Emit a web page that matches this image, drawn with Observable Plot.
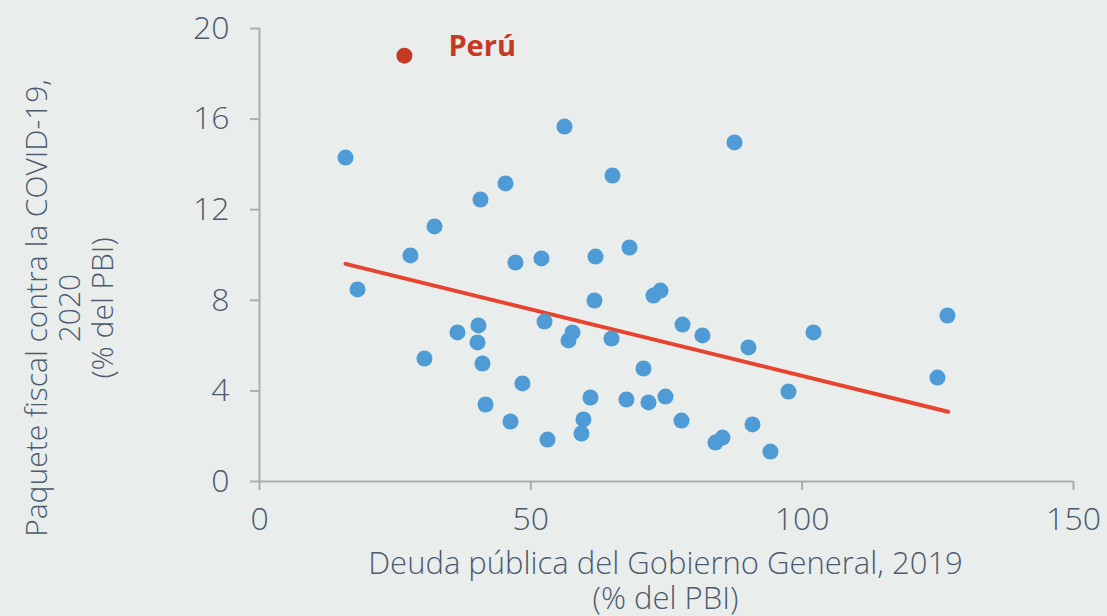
<!DOCTYPE html>
<html>
<head>
<meta charset="utf-8">
<script src="https://cdn.jsdelivr.net/npm/d3@7"></script>
<script src="https://cdn.jsdelivr.net/npm/@observablehq/plot@0.6"></script>
<style>
  html, body { margin: 0; padding: 0; background: #e9eeed; }
  #chart { width: 1107px; height: 616px; }
</style>
</head>
<body>
<div id="chart"></div>
<script>
// Deuda pública 2019 (% PBI) and paquete fiscal COVID-19 2020 (% PBI)
const debt = [15.85, 18.06, 27.82, 30.40, 32.25, 36.48, 40.35, 40.17, 40.72, 41.09, 41.65, 45.33, 46.25, 47.17, 48.46, 51.96, 52.52, 53.07, 56.20, 56.94, 57.68, 59.70, 59.33, 60.99, 61.73, 61.92, 64.86, 65.05, 67.62, 68.18, 70.76, 71.68, 72.60, 73.89, 74.81, 77.76, 77.95, 81.63, 84.02, 85.31, 87.53, 90.10, 90.84, 94.16, 97.48, 102.08, 124.93, 126.77];
const fiscal = [14.30, 8.48, 9.98, 5.43, 11.26, 6.58, 6.89, 6.14, 12.45, 5.21, 3.40, 13.16, 2.65, 9.67, 4.33, 9.85, 7.06, 1.85, 15.67, 6.23, 6.58, 2.74, 2.12, 3.71, 7.99, 9.93, 6.31, 13.51, 3.62, 10.33, 4.99, 3.49, 8.21, 8.43, 3.75, 2.69, 6.93, 6.45, 1.72, 1.94, 14.97, 5.92, 2.52, 1.32, 3.97, 6.58, 4.59, 7.33];

const peruName = ["Perú"];
const peruDebt = [26.7];
const peruFiscal = [18.8];

// Trend line endpoints
const trendX = [15.85, 126.9];
const trendY = [9.61, 3.08];

const xTicks = [0, 50, 100, 150];
const yTicks = [0, 4, 8, 12, 16, 20];

const xTitle = "Deuda pública del Gobierno General, 2019\n(% del PBI)";
const yTitle = "Paquete fiscal contra la COVID-19,\n2020\n(% del PBI)";

const points = debt.map((d, i) => ({x: d, y: fiscal[i]}));
const peru = peruName.map((n, i) => ({name: n, x: peruDebt[i], y: peruFiscal[i]}));
const trend = trendX.map((d, i) => ({x: d, y: trendY[i]}));

const textColor = "#4d5b6e";
const axisColor = "#a9aeb1";
const font = "'Open Sans', Roboto, sans-serif";

const chart = Plot.plot({
  width: 1107,
  height: 616,
  marginLeft: 259,
  marginRight: 34,
  marginTop: 28,
  marginBottom: 135,
  style: {background: "#e9eeed", fontFamily: font, overflow: "visible"},
  x: {domain: [0, 150]},
  y: {domain: [0, 20]},
  marks: [
    Plot.ruleY([0], {stroke: axisColor, strokeWidth: 2}),
    Plot.ruleX([0], {stroke: axisColor, strokeWidth: 2}),
    Plot.axisX({ticks: xTicks, tickSize: 9, tickPadding: 17, fontSize: 32, fontWeight: 300, stroke: axisColor, strokeWidth: 2, fill: textColor, label: null}),
    Plot.axisY({ticks: yTicks, tickSize: 9, tickPadding: 21, fontSize: 32, fontWeight: 300, stroke: axisColor, strokeWidth: 2, fill: textColor, label: null}),
    Plot.text([xTitle], {frameAnchor: "bottom", dx: -1, dy: 99, textAnchor: "middle", lineAnchor: "middle", lineHeight: 1.13, fontSize: 31, fontWeight: 300, fill: textColor}),
    Plot.text([yTitle], {frameAnchor: "left", dx: -190, dy: 53, rotate: -90, textAnchor: "middle", lineAnchor: "middle", lineHeight: 1.1, fontSize: 30, fontWeight: 300, fill: textColor}),
    Plot.line(trend, {x: "x", y: "y", stroke: "#e8432f", strokeWidth: 4}),
    Plot.dot(points, {x: "x", y: "y", r: 8, fill: "#4e9bd6"}),
    Plot.dot(peru, {x: "x", y: "y", r: 8, fill: "#c53a25"}),
    Plot.text(peru, {x: "x", y: "y", text: "name", dx: 44, dy: -9, textAnchor: "start", fontSize: 29, fontWeight: "bold", fill: "#c53a25"})
  ]
});
document.getElementById("chart").appendChild(chart);
</script>
</body>
</html>
